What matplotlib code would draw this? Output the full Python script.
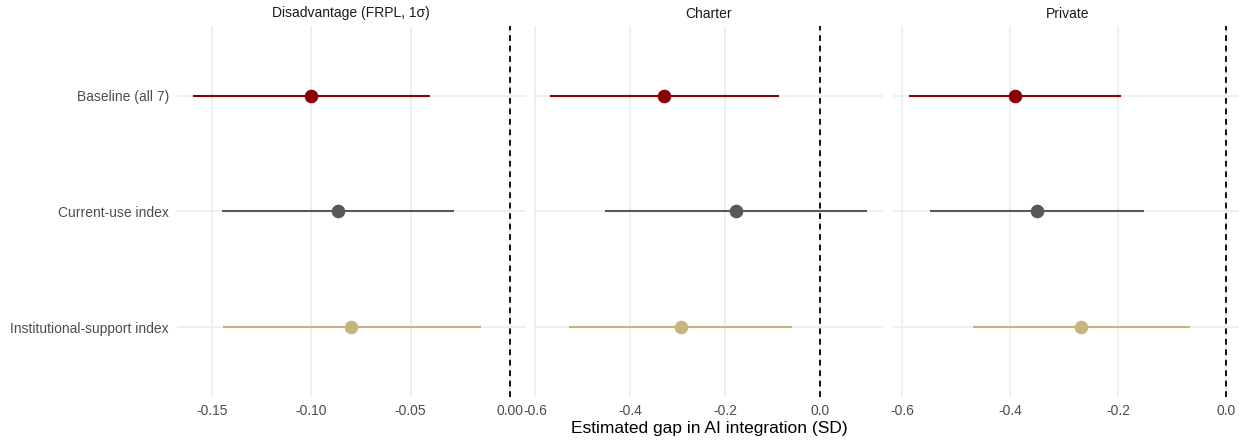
import numpy as np
import matplotlib
matplotlib.use('Agg')
import matplotlib.pyplot as plt

plt.rcParams['font.family'] = ['Liberation Sans', 'DejaVu Sans']
plt.rcParams['axes.unicode_minus'] = False

# data
panels = ['Disadvantage (FRPL, 1σ)', 'Charter', 'Private']
models = ['Baseline (all 7)', 'Current-use index', 'Institutional-support index']
colors = ['#8B0000', '#585858', '#C8B47E']

est = {
    'Disadvantage (FRPL, 1σ)': [-0.100, -0.0866, -0.080],
    'Charter': [-0.328, -0.176, -0.293],
    'Private': [-0.391, -0.351, -0.269],
}
lo = {
    'Disadvantage (FRPL, 1σ)': [-0.1599, -0.1452, -0.1448],
    'Charter': [-0.568, -0.452, -0.528],
    'Private': [-0.5865, -0.548, -0.469],
}
hi = {
    'Disadvantage (FRPL, 1σ)': [-0.040, -0.0279, -0.0147],
    'Charter': [-0.0857, 0.100, -0.059],
    'Private': [-0.1956, -0.153, -0.068],
}
xticks = {
    'Disadvantage (FRPL, 1σ)': ['-0.15', '-0.10', '-0.05', '0.00'],
    'Charter': ['-0.6', '-0.4', '-0.2', '0.0'],
    'Private': ['-0.6', '-0.4', '-0.2', '0.0'],
}

W, H = 1239, 443
fig = plt.figure(figsize=(W / 100, H / 100), dpi=100)

# panel geometry (pixels)
pw = 349.0
lefts = [176.7, 534.3, 893.3]
top, bottom = 26.0, 396.8
ypos = np.arange(len(models))[::-1] + 1  # baseline on top

grid_c = '#EBEBEB'

for i, p in enumerate(panels):
    ax = fig.add_axes([lefts[i] / W, 1 - bottom / H, pw / W, (bottom - top) / H])
    for sp in ax.spines.values():
        sp.set_visible(False)

    # free x scale with 5% expansion, like facet_wrap(scales = "free_x")
    xmin = min(min(lo[p]), 0)
    xmax = max(max(hi[p]), 0)
    pad = 0.05 * (xmax - xmin)
    ax.set_xlim(xmin - pad, xmax + pad)
    ax.set_ylim(0.4, len(models) + 0.6)

    tv = [float(t) for t in xticks[p]]
    ax.set_xticks(tv)
    ax.set_xticklabels(xticks[p])
    ax.set_yticks(ypos)
    if i == 0:
        ax.set_yticklabels(models)
    else:
        ax.set_yticklabels([])
    ax.tick_params(length=0, labelsize=10, colors='#4D4D4D', pad=5.5)

    ax.grid(True, color=grid_c, linewidth=1.1, zorder=0)
    ax.set_axisbelow(True)

    ax.axvline(0, color='black', linewidth=1.3, dashes=(3.2, 2.6), zorder=2)

    for j in range(len(models)):
        ax.plot([lo[p][j], hi[p][j]], [ypos[j], ypos[j]], color=colors[j],
                linewidth=1.5, solid_capstyle='butt', zorder=3)
        ax.plot(est[p][j], ypos[j], 'o', color=colors[j], markersize=9.8,
                markeredgewidth=0, zorder=4)

    # strip label above the panel
    ax.text(0.5, (bottom - 13.5) / (bottom - top), p,
            transform=ax.transAxes, ha='center', va='center',
            fontsize=10, color='#1A1A1A')

fig.text((lefts[0] + lefts[2] + pw) / 2 / W, 1 - 428 / H,
         'Estimated gap in AI integration (SD)', ha='center', va='center',
         fontsize=12.5, color='black')

fig.savefig('out.png', dpi=100)
